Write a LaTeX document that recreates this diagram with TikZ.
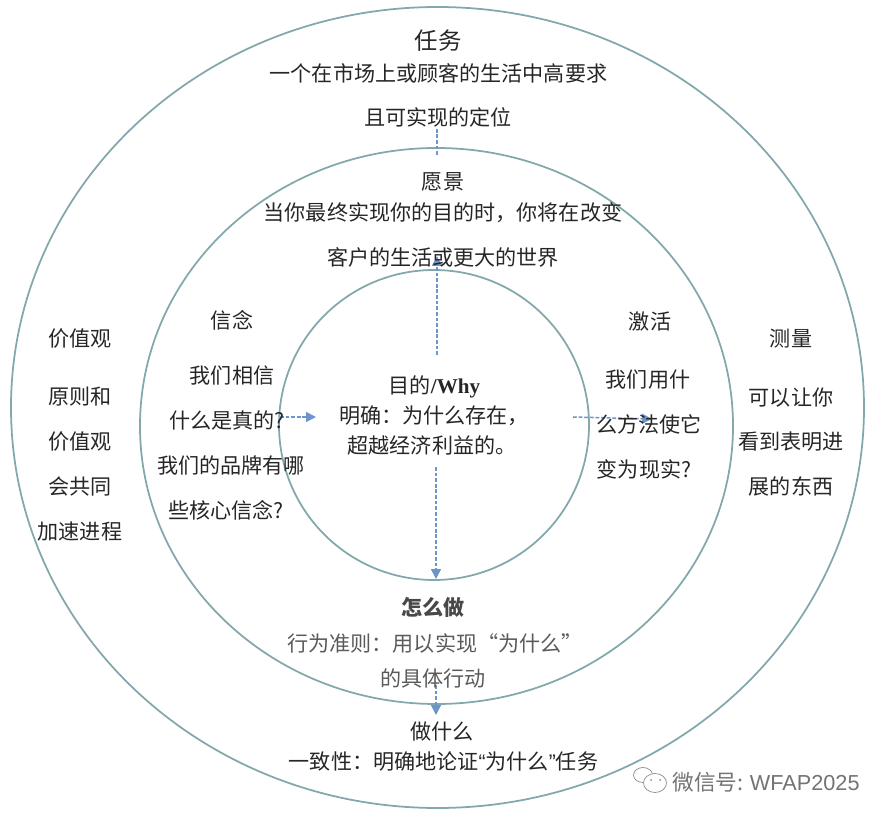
\documentclass[tikz,border=0pt]{standalone}
\usepackage{fontspec}
\setmainfont{Noto Sans CJK SC}[ItalicFont=Noto Sans CJK SC]
\newfontfamily\whyfont{Liberation Serif}
\newfontfamily\quotefont{Liberation Sans}
\usepackage{tikz}
\usetikzlibrary{arrows.meta}
\definecolor{ringteal}{HTML}{82A8AC}
\definecolor{flowblue}{HTML}{6B96CC}
\definecolor{howgrey}{HTML}{5A5A5A}
\tikzset{
  ring/.style={draw=ringteal,line width=1.5pt},
  flow/.style={draw=flowblue,line width=1.3pt,dash pattern=on 3.2pt off 1.6pt,-{Triangle[fill=flowblue,length=8.5pt,width=8.5pt]}},
  txt/.style={inner sep=0pt,yshift=-0.7pt,font=\fontsize{18pt}{20pt}\selectfont,text=black!85},
  howtxt/.style={txt,text=howgrey},
  logo/.style={draw=black!45,fill=white,line width=0.6pt},
  logoeye/.style={fill=black!45}
}
\begin{document}
\begin{tikzpicture}[x=0.03cm,y=-0.03cm]
  \useasboundingbox (0,0) rectangle (886,820);
  \draw[ring] (437.5,407.5) ellipse [x radius=426.5,y radius=400.5];
  \draw[ring] (436.5,426) ellipse [x radius=296.5,y radius=278];
  \draw[ring] (434,425) ellipse [x radius=155,y radius=155];

  \coordinate (missiona) at (437,155);
  \coordinate (missionb) at (437,108);
  \coordinate (visiona) at (437,355);
  \coordinate (visionb) at (437,256);
  \coordinate (howa) at (436,467);
  \coordinate (howb) at (436,579);
  \coordinate (whata) at (436,685);
  \coordinate (whatb) at (436,715);
  \coordinate (beliefa) at (280,417);
  \coordinate (beliefb) at (316,417);
  \coordinate (activatea) at (573,417);
  \coordinate (activateb) at (652,419);
  \draw[flow] (missiona) -- (missionb);
  \draw[flow] (visiona) -- (visionb);
  \draw[flow] (howa) -- (howb);
  \draw[flow] (whata) -- (whatb);
  \draw[flow] (beliefa) -- (beliefb);
  \draw[flow] (activatea) -- (activateb);

  \node[txt,font=\fontsize{20pt}{22pt}\selectfont] (mission) at (438,40) {任务};
  \node[txt] (missionl) at (438.5,73) {一个在市场上或顾客的生活中高要求};
  \node[txt,fill=white,inner sep=1pt] (missionm) at (438,117) {且可实现的定位};
  \node[txt] (vision) at (443,181) {愿景};
  \node[txt] (visionl) at (443,212) {当你最终实现你的目的时，你将在改变};
  \node[txt] (visionm) at (443,257) {客户的生活或更大的世界};

  \node[txt] (why) at (434.5,386) {目的{\whyfont\bfseries /Why}};
  \node[txt] (whyl) at (434,415) {明确：为什么存在，};
  \node[txt] (whym) at (432,445) {超越经济利益的。};

  \node[txt,font=\bfseries\fontsize{18pt}{20pt}\selectfont,text=howgrey!80!black] (how) at (433,607) {怎么做};
  \node[howtxt] (howl) at (435,643) {行为准则：用以实现“为什么”};
  \node[howtxt] (howm) at (433,678) {的具体行动};
  \node[txt] (what) at (442,731) {做什么};
  \node[txt] (whatl) at (443.5,761) {一致性：明确地论证{\quotefont “}为什么{\quotefont ”}任务};

  \node[txt] (belief) at (232,320) {信念};
  \node[txt] (beliefl) at (232,375) {我们相信};
  \node[txt] (beliefm) at (227,420) {什么是真的?};
  \node[txt] (beliefn) at (231,465) {我们的品牌有哪};
  \node[txt] (beliefo) at (226,510) {些核心信念?};

  \node[txt] (activate) at (650,321) {激活};
  \node[txt] (activatel) at (648,379) {我们用什};
  \node[txt] (activatem) at (649,424) {么方法使它};
  \node[txt] (activaten) at (644,469) {变为现实?};

  \node[txt] (values) at (80,338) {价值观};
  \node[txt] (valuesl) at (80,396) {原则和};
  \node[txt] (valuesm) at (80,441) {价值观};
  \node[txt] (valuesn) at (80,486) {会共同};
  \node[txt] (valueso) at (80,531) {加速进程};

  \node[txt] (measure) at (791,338) {测量};
  \node[txt] (measurel) at (791,397) {可以让你};
  \node[txt] (measurem) at (791,441) {看到表明进};
  \node[txt] (measuren) at (791,486) {展的东西};

  \draw[logo] (643,775) ellipse [x radius=9.5,y radius=7.5];
  \draw[logo] (655,783) ellipse [x radius=11.5,y radius=9.5];
  \fill[logoeye] (651,780) circle (1);
  \fill[logoeye] (660,780) circle (1);
  \node[txt,text=black!55,font=\fontsize{18.5pt}{20pt}\selectfont] (mark) at (766,781) {微信号: {\quotefont WFAP2025}};
\end{tikzpicture}
\end{document}
